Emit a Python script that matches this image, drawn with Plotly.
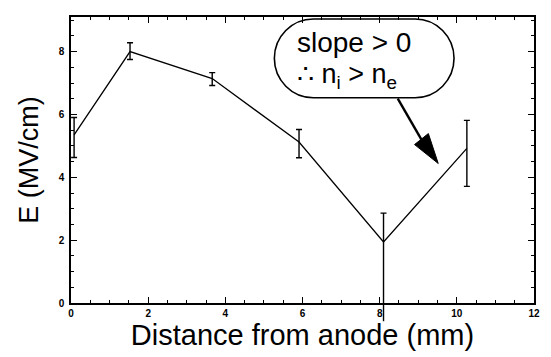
import plotly.graph_objects as go

# Electric field profile across the gap
distance_mm = [0.08, 1.53, 3.66, 5.91, 8.1, 10.26]
field_mv_cm = [5.35, 8.0, 7.14, 5.12, 1.94, 4.92]
err_plus = [0.55, 0.28, 0.19, 0.40, 0.92, 0.89]
err_minus = [0.72, 0.25, 0.22, 0.50, 2.52, 1.21]

x_ticks = [0, 2, 4, 6, 8, 10, 12]
y_ticks = [0, 2, 4, 6, 8]
x_range = [0, 12]
y_range = [0, 9.1]

W_PX, H_PX = 551, 357
L, R, T, B = 71, 540, 17, 304
FONT = "Liberation Sans, Arial, sans-serif"


def px(xp, yp):
    """Pixel position -> paper coordinates."""
    return (xp - L) / (R - L), (B - yp) / (B - T)


def path_from(cmds):
    parts = []
    for cmd, coords in cmds:
        s = " ".join("%.5f,%.5f" % px(a, b) for a, b in coords)
        parts.append(cmd + " " + s)
    return " ".join(parts)


def stadium_path(x0, y0, x1, y1):
    r = (y1 - y0) / 2
    cy = (y0 + y1) / 2
    k = 0.5523 * r
    cxa, cxb = x0 + r, x1 - r
    return path_from([
        ("M", [(cxa, y0)]),
        ("L", [(cxb, y0)]),
        ("C", [(cxb + k, y0), (x1, cy - k), (x1, cy)]),
        ("C", [(x1, cy + k), (cxb + k, y1), (cxb, y1)]),
        ("L", [(cxa, y1)]),
        ("C", [(cxa - k, y1), (x0, cy + k), (x0, cy)]),
        ("C", [(x0, cy - k), (cxa - k, y0), (cxa, y0)]),
    ]) + " Z"


fig = go.Figure()
fig.add_trace(go.Scatter(
    x=distance_mm, y=field_mv_cm,
    mode="lines",
    line=dict(color="black", width=1.3),
    error_y=dict(type="data", symmetric=False, array=err_plus, arrayminus=err_minus,
                 color="black", thickness=1.4, width=3),
    cliponaxis=False,
    showlegend=False,
))

# Error bars that run past the bottom axis continue below the frame
for xv, yv, em in zip(distance_mm, field_mv_cm, err_minus):
    low = yv - em
    if low < y_range[0]:
        fig.add_shape(type="line", xref="x", yref="y domain",
                      x0=xv, x1=xv,
                      y0=0, y1=(low - y_range[0]) / (y_range[1] - y_range[0]),
                      line=dict(color="black", width=1.4))

axis_common = dict(
    showline=True, linecolor="black", linewidth=1.5, mirror="allticks",
    ticks="inside", ticklen=6, tickwidth=1.2, tickcolor="black",
    showgrid=False, zeroline=False,
    tickfont=dict(family=FONT, size=10, color="black", weight="bold"),
    minor=dict(ticks="inside", ticklen=3, tickwidth=1, tickcolor="black", dtick=0.5, showgrid=False),
)

fig.update_xaxes(range=x_range, tickvals=x_ticks, ticktext=[str(v) for v in x_ticks],
                 title=dict(text="Distance from anode (mm)", font=dict(family=FONT, size=29, color="black"), standoff=7),
                 **axis_common)
fig.update_yaxes(range=y_range, tickvals=y_ticks, ticktext=[str(v) for v in y_ticks],
                 ticklabelstandoff=3,
                 title=dict(text="E (MV/cm)", font=dict(family=FONT, size=27, color="black"), standoff=12),
                 **axis_common)

# Callout bubble
fig.add_shape(type="path", xref="paper", yref="paper",
              path=stadium_path(277, 19, 459, 98),
              line=dict(color="black", width=1.6), fillcolor="rgba(0,0,0,0)")

tx, ty = px(358, 43)
fig.add_annotation(x=tx, y=ty, xref="paper", yref="paper", text="slope > 0",
                   showarrow=False, font=dict(family=FONT, size=28, color="black"),
                   xanchor="center", yanchor="middle")
tx, ty = px(298, 76)
fig.add_annotation(x=tx, y=ty, xref="paper", yref="paper",
                   text="\u2234 n<sub>i</sub> > n<sub>e</sub>",
                   showarrow=False, font=dict(family=FONT, size=27, color="black"),
                   xanchor="left", yanchor="middle")

# Arrow from the bubble to the rising segment
fig.add_shape(type="path", xref="paper", yref="paper",
              path=path_from([("M", [(402, 99)]), ("L", [(426, 140)])]),
              line=dict(color="black", width=2.4))
fig.add_shape(type="path", xref="paper", yref="paper",
              path=path_from([("M", [(419, 145)]), ("L", [(433, 134)]), ("L", [(443, 164)])]) + " Z",
              line=dict(color="black", width=1), fillcolor="black")

fig.update_layout(
    width=W_PX, height=H_PX,
    margin=dict(l=L, r=W_PX - R, t=T, b=H_PX - B),
    plot_bgcolor="white", paper_bgcolor="white",
    font=dict(family=FONT, color="black"),
)

fig.write_html("out.html")
